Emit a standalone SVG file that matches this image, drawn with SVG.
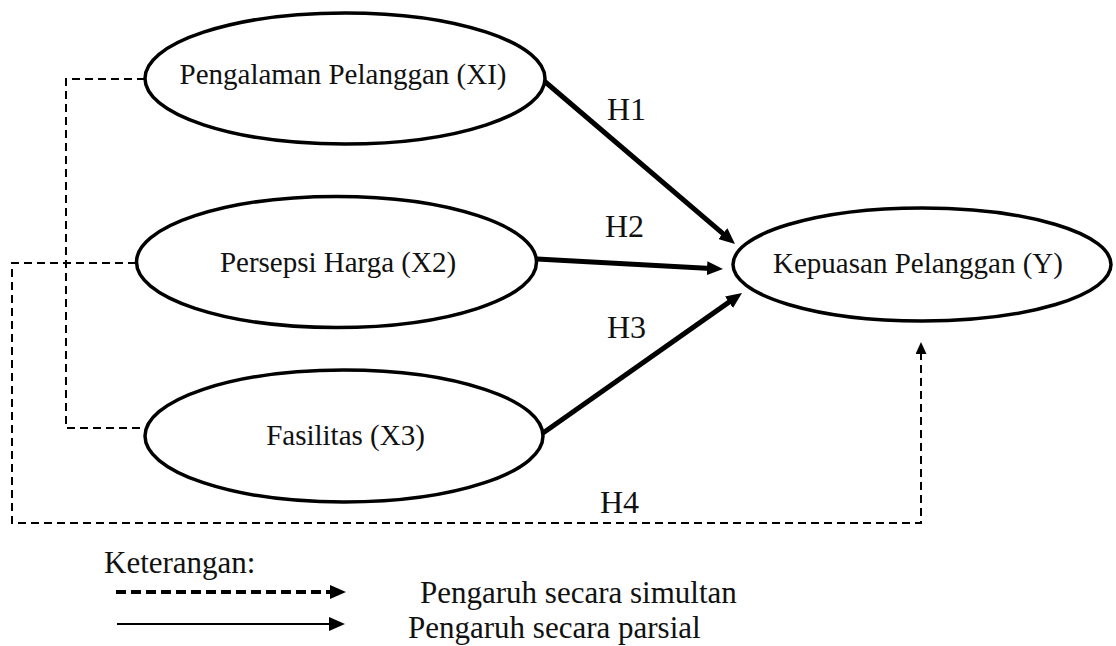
<svg xmlns="http://www.w3.org/2000/svg" width="1116" height="646" viewBox="0 0 1116 646">
<style>
  .node ellipse { fill: #fff; stroke: #000; stroke-width: 3.5; }
  .lbl { font-family: "Liberation Serif", "Times New Roman", serif; font-size: 29px; fill: #111; }
  .leg { font-family: "Liberation Serif", "Times New Roman", serif; font-size: 31px; fill: #111; }
  .h { font-family: "Liberation Serif", "Times New Roman", serif; font-size: 32px; fill: #111; }
  .thick { stroke: #000; stroke-width: 5; fill: none; }
  .dash { stroke: #000; stroke-width: 2; fill: none; stroke-dasharray: 8 5; }
</style>
<defs>
  <marker id="ah" viewBox="0 0 16 14" refX="4" refY="7" markerWidth="16" markerHeight="14" markerUnits="userSpaceOnUse" orient="auto">
    <path d="M0,0 L16,7 L0,14 z" fill="#000"/>
  </marker>
  <marker id="ahs" viewBox="0 0 12 11" refX="2" refY="5.5" markerWidth="12" markerHeight="11" markerUnits="userSpaceOnUse" orient="auto">
    <path d="M0,0 L12,5.5 L0,11 z" fill="#000"/>
  </marker>
</defs>
<g id="connectors">
  <polyline class="dash" points="145,79 66,79 66,428 146,428"/>
  <polyline class="dash" points="136,263 12,263 12,523 921,523 921,352" marker-end="url(#ahs)"/>
  <line class="thick" x1="543" y1="80" x2="725.9" y2="236.2" marker-end="url(#ah)"/>
  <line class="thick" x1="537" y1="259" x2="711" y2="268.4" marker-end="url(#ah)"/>
  <line class="thick" x1="543" y1="433" x2="732.2" y2="299.9" marker-end="url(#ah)"/>
  <text class="h" x="607" y="120">H1</text>
  <text class="h" x="605" y="237">H2</text>
  <text class="h" x="607" y="338">H3</text>
  <text class="h" x="600" y="513">H4</text>
</g>
<g id="x1" class="node">
  <ellipse cx="345" cy="78.5" rx="200" ry="65.5"/>
  <text class="lbl" x="343" y="84" text-anchor="middle">Pengalaman Pelanggan (XI)</text>
</g>
<g id="x2" class="node">
  <ellipse cx="336.5" cy="262" rx="200" ry="65.5"/>
  <text class="lbl" x="338" y="272" text-anchor="middle">Persepsi Harga (X2)</text>
</g>
<g id="x3" class="node">
  <ellipse cx="344" cy="436" rx="199" ry="66"/>
  <text class="lbl" x="345.5" y="445" text-anchor="middle">Fasilitas (X3)</text>
</g>
<g id="y" class="node">
  <ellipse cx="922" cy="264.5" rx="189" ry="56.5"/>
  <text class="lbl" x="918" y="273" text-anchor="middle">Kepuasan Pelanggan (Y)</text>
</g>
<g id="legend">
  <text class="leg" x="104" y="573">Keterangan:</text>
  <line x1="116" y1="592" x2="334" y2="592" stroke="#000" stroke-width="4" stroke-dasharray="10 5" marker-end="url(#ah)"/>
  <text class="leg" x="420" y="603">Pengaruh secara simultan</text>
  <line x1="117" y1="624" x2="333" y2="624" stroke="#000" stroke-width="2" marker-end="url(#ah)"/>
  <text class="leg" x="408" y="638">Pengaruh secara parsial</text>
</g>
</svg>
